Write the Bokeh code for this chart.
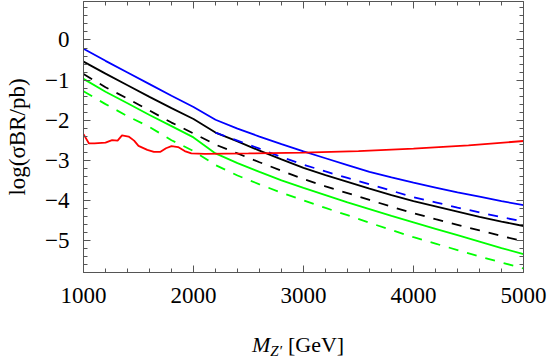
import numpy as np
from bokeh.plotting import figure
from bokeh.layouts import column
from bokeh.models import Range1d, LinearAxis, FixedTicker, Div
from bokeh.embed import file_html
from bokeh.resources import INLINE

# ---- data ----
mass = [1000, 1200, 1400, 1600, 1800, 2000, 2200, 2400, 2600, 2800, 3000,
        3200, 3400, 3600, 3800, 4000, 4200, 4400, 4600, 4800, 5000]
blue_solid = [-0.22, -0.52, -0.81, -1.10, -1.39, -1.67, -1.99, -2.21, -2.41, -2.60, -2.78,
              -2.95, -3.12, -3.29, -3.43, -3.56, -3.68, -3.80, -3.91, -4.02, -4.12]
black_solid = [-0.54, -0.84, -1.13, -1.42, -1.70, -1.97, -2.31, -2.53, -2.76, -2.98, -3.19,
               -3.37, -3.54, -3.71, -3.87, -4.02, -4.15, -4.28, -4.41, -4.53, -4.64]
black_dashed = [-0.85, -1.18, -1.46, -1.76, -2.06, -2.33, -2.61, -2.83, -3.05, -3.26, -3.47,
                -3.65, -3.82, -3.99, -4.16, -4.32, -4.47, -4.61, -4.75, -4.89, -5.02]
green_solid = [-0.97, -1.29, -1.58, -1.87, -2.15, -2.43, -2.83, -3.07, -3.29, -3.50, -3.69,
               -3.87, -4.05, -4.22, -4.39, -4.55, -4.71, -4.87, -5.03, -5.19, -5.34]
green_dashed = [-1.28, -1.60, -1.90, -2.17, -2.50, -2.77, -3.12, -3.38, -3.60, -3.81, -4.00,
                -4.19, -4.37, -4.56, -4.74, -4.92, -5.08, -5.24, -5.40, -5.55, -5.70]
mass_hi = [2200, 2400, 2600, 2800, 3000, 3200, 3400, 3600, 3800, 4000, 4200, 4400, 4600, 4800, 5000]
blue_dashed = [-2.31, -2.51, -2.71, -2.92, -3.11, -3.28, -3.44, -3.60, -3.76, -3.92,
               -4.05, -4.18, -4.30, -4.42, -4.53]
red_mass = [1000, 1050, 1100, 1200, 1260, 1310, 1350, 1410, 1460, 1500, 1580, 1640, 1700,
            1750, 1800, 1860, 1920, 1980, 2100, 2500, 3000, 3500, 4000, 4500, 5000]
red_limit = [-2.35, -2.58, -2.58, -2.56, -2.50, -2.51, -2.38, -2.41, -2.51, -2.64, -2.74, -2.79,
             -2.79, -2.70, -2.65, -2.67, -2.77, -2.83, -2.84, -2.83, -2.81, -2.77, -2.71, -2.63, -2.52]

x_major = [1000, 2000, 3000, 4000, 5000]
y_major = [-5, -4, -3, -2, -1, 0]
y_labels = {-5: "\u22125", -4: "\u22124", -3: "\u22123", -2: "\u22122", -1: "\u22121", 0: "0"}

FONT = "Liberation Serif"
AX = "#555555"

p = figure(width=548, height=329, output_backend="svg", toolbar_location=None,
           x_range=Range1d(1000, 5000), y_range=Range1d(-5.8, 0.96),
           min_border_left=83, min_border_right=25, min_border_top=1, min_border_bottom=57)
p.xgrid.visible = False
p.ygrid.visible = False
p.outline_line_color = None
p.background_fill_color = "white"

x_minor = list(np.arange(1000, 5001, 200))
y_minor = list(np.round(np.arange(-5.8, 0.97, 0.2), 2))


def style(ax, major, minor, show_labels):
    ax.ticker = FixedTicker(ticks=major, minor_ticks=minor)
    ax.axis_line_color = AX
    ax.axis_line_width = 1
    ax.major_tick_line_color = AX
    ax.minor_tick_line_color = AX
    ax.major_tick_in = 7
    ax.major_tick_out = 0
    ax.minor_tick_in = 4
    ax.minor_tick_out = 0
    ax.major_label_text_font = FONT
    ax.major_label_text_color = "black"
    if show_labels:
        ax.major_label_text_font_size = "23px"
    else:
        ax.major_label_text_font_size = "0px"
        ax.major_label_standoff = 0
        ax.major_label_overrides = {t: "" for t in major}


xb = p.xaxis[0]
style(xb, x_major, x_minor, True)
xb.major_label_standoff = 15

yl = p.yaxis[0]
style(yl, y_major, y_minor, True)
yl.major_label_overrides = y_labels
yl.major_label_standoff = 14
yl.axis_label = "log(\u03c3BR/pb)"
yl.axis_label_text_font = FONT
yl.axis_label_text_font_size = "23px"
yl.axis_label_text_font_style = "normal"
yl.axis_label_text_color = "black"
yl.axis_label_standoff = 12

top = LinearAxis()
style(top, x_major, x_minor, False)
p.add_layout(top, "above")
right = LinearAxis()
style(right, y_major, y_minor, False)
p.add_layout(right, "right")

LW = 1.8
DASH = "10 9"
p.line(mass, green_dashed, line_color="#00ff00", line_width=LW, line_dash=DASH)
p.line(mass, green_solid, line_color="#00ff00", line_width=LW)
p.line(mass, black_dashed, line_color="black", line_width=LW, line_dash=DASH)
p.line(mass, black_solid, line_color="black", line_width=LW)
p.line(mass_hi, blue_dashed, line_color="#0000ff", line_width=LW, line_dash=DASH)
p.line(mass, blue_solid, line_color="#0000ff", line_width=LW)
p.line(red_mass, red_limit, line_color="#ff0000", line_width=LW)

# x-axis title: M_{Z'} [GeV]
title = Div(
    text='<div style="margin-left:252px;white-space:nowrap;line-height:22px;">'
         '<span style="font-style:italic">M</span>'
         '<span style="font-style:italic;font-size:15px;position:relative;top:4px;">Z\u2032</span>'
         '<span style="margin-left:6px">[GeV]</span></div>',
    width=548, height=30, margin=(0, 0, 0, 0),
    styles={"font-family": FONT, "font-size": "22px", "color": "black"})

layout = column(p, title, spacing=0)
open("out.html", "w").write(file_html(layout, INLINE))
